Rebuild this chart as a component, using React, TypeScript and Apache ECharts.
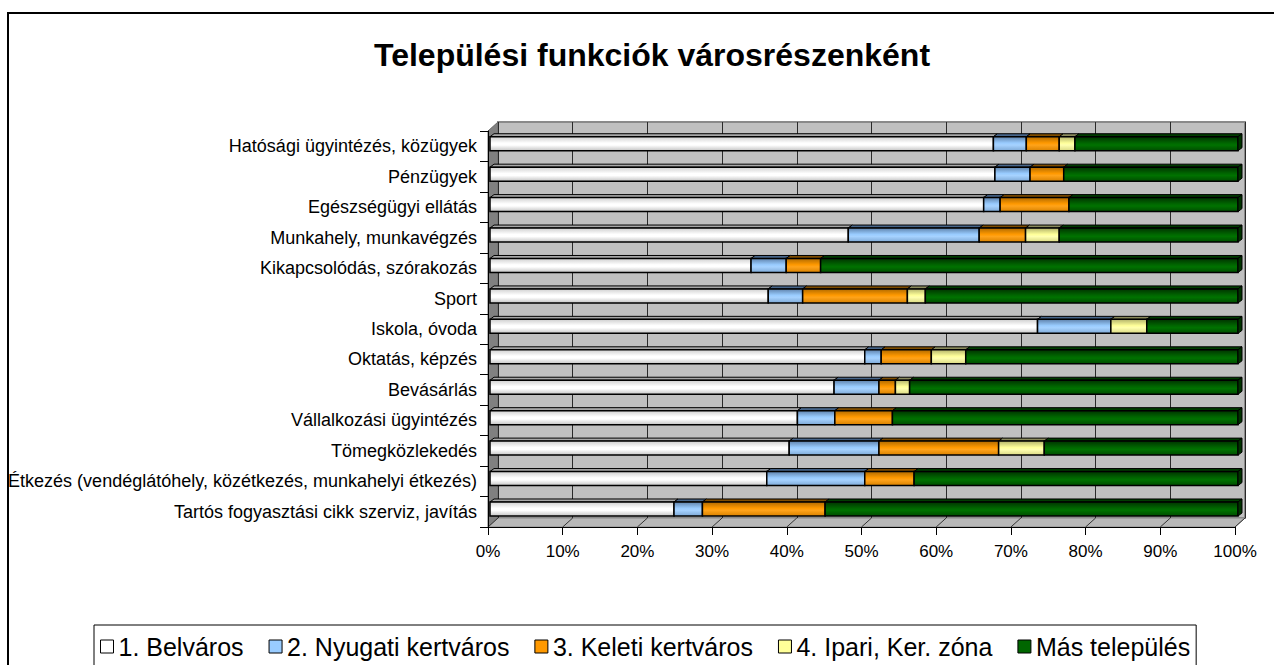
import React, { useEffect, useRef } from "react";
import * as echarts from "echarts";

const categories = [
  "Hatósági ügyintézés, közügyek",
  "Pénzügyek",
  "Egészségügyi ellátás",
  "Munkahely, munkavégzés",
  "Kikapcsolódás, szórakozás",
  "Sport",
  "Iskola, óvoda",
  "Oktatás, képzés",
  "Bevásárlás",
  "Vállalkozási ügyintézés",
  "Tömegközlekedés",
  "Étkezés (vendéglátóhely, közétkezés, munkahelyi étkezés)",
  "Tartós fogyasztási cikk szerviz, javítás",
];

const seriesNames = [
  "1. Belváros",
  "2. Nyugati kertváros",
  "3. Keleti kertváros",
  "4. Ipari, Ker. zóna",
  "Más település",
];

const belvaros = [67.3, 67.5, 66.0, 47.9, 34.9, 37.2, 73.2, 50.1, 46.0, 41.1, 40.0, 37.0, 24.6];
const nyugati = [4.4, 4.7, 2.2, 17.5, 4.7, 4.6, 9.8, 2.2, 6.0, 5.0, 12.0, 13.1, 3.8];
const keleti = [4.4, 4.5, 9.2, 6.2, 4.6, 14.0, 0, 6.7, 2.2, 7.7, 16.0, 6.6, 16.4];
const ipari = [2.1, 0, 0, 4.5, 0, 2.4, 4.8, 4.6, 1.9, 0, 6.1, 0, 0];
const mas = [21.8, 23.3, 22.6, 23.9, 55.8, 41.8, 12.2, 36.4, 43.9, 46.2, 25.9, 43.3, 55.2];

const xTicks = [0, 10, 20, 30, 40, 50, 60, 70, 80, 90, 100];

const FONT = '"Liberation Sans", Arial, sans-serif';

const palettes = [
  { base: "#ffffff", grad: ["#cfcfcf", "#ffffff", "#ffffff", "#c4c4c4"], top: "#a8a8a8", side: "#9a9a9a" },
  { base: "#99ccff", grad: ["#5f82ab", "#99ccff", "#a6d2ff", "#7ea9d6"], top: "#48668a", side: "#4a6a8c" },
  { base: "#ff9900", grad: ["#b06a00", "#ff9900", "#ffa31a", "#d98200"], top: "#7f4d00", side: "#8c5400" },
  { base: "#ffff99", grad: ["#b3b36b", "#ffff99", "#ffffb0", "#d9d982"], top: "#8a8a5c", side: "#8c8c5a" },
  { base: "#006600", grad: ["#003300", "#006600", "#007200", "#004d00"], top: "#003d00", side: "#003300" },
];

export default function App() {
  const ref = useRef<HTMLDivElement>(null);

  useEffect(() => {
    if (!ref.current) return;
    const chart = echarts.init(ref.current, null, { renderer: "svg" });

    const all = [belvaros, nyugati, keleti, ipari, mas];
    const cum = categories.map(() => 0);
    const seriesData = all.map((arr) =>
      arr.map((v, j) => {
        const s = cum[j];
        cum[j] += v;
        return [s, s + v, j];
      })
    );

    const H = 14;
    const DX = 4;
    const DY = 3;

    const series: any[] = seriesData.map((data, i) => {
      const pal = palettes[i];
      const isLast = i === seriesData.length - 1;
      return {
        type: "custom",
        name: seriesNames[i],
        xAxisIndex: 0,
        yAxisIndex: 0,
        z: 4,
        itemStyle: { color: pal.base, borderColor: "#000", borderWidth: 1 },
        encode: { x: [0, 1], y: 2 },
        data,
        renderItem: (params: any, api: any) => {
          const s = api.value(0);
          const e = api.value(1);
          const c = api.value(2);
          if (e - s <= 0) return { type: "group", children: [] };
          const a = api.coord([s, c]);
          const b = api.coord([e, c]);
          const y0 = a[1] - H / 2;
          const children: any[] = [
            {
              type: "polygon",
              shape: {
                points: [
                  [a[0], y0],
                  [a[0] + DX, y0 - DY],
                  [b[0] + DX, y0 - DY],
                  [b[0], y0],
                ],
              },
              style: { fill: pal.top, stroke: "#000", lineWidth: 1 },
            },
            {
              type: "rect",
              shape: { x: a[0], y: y0, width: b[0] - a[0], height: H },
              style: {
                fill: new echarts.graphic.LinearGradient(0, 0, 0, 1, [
                  { offset: 0, color: pal.grad[0] },
                  { offset: 0.45, color: pal.grad[1] },
                  { offset: 0.6, color: pal.grad[2] },
                  { offset: 1, color: pal.grad[3] },
                ]),
                stroke: "#000",
                lineWidth: 1.5,
              },
            },
          ];
          if (isLast) {
            children.push({
              type: "polygon",
              shape: {
                points: [
                  [b[0], y0],
                  [b[0] + DX, y0 - DY],
                  [b[0] + DX, y0 + H - DY],
                  [b[0], y0 + H],
                ],
              },
              style: { fill: pal.side, stroke: "#000", lineWidth: 1 },
            });
          }
          return { type: "group", children };
        },
      };
    });

    // Geometry of the pseudo-3D box
    const fL = 488, fR = 1235, fB = 527, fT = 131;
    const bL = 498, bR = 1245, bB = 518, bT = 122;

    const floorLines = xTicks.map((t) => {
      const fx = fL + ((fR - fL) * t) / 100;
      const bx = bL + ((bR - bL) * t) / 100;
      return {
        type: "line",
        z: 2,
        shape: { x1: fx, y1: fB, x2: bx, y2: bB },
        style: { stroke: "#333", lineWidth: 1 },
      };
    });

    chart.setOption({
      animation: false,
      backgroundColor: "#ffffff",
      title: {
        text: "Települési funkciók városrészenként",
        left: 647,
        top: 34,
        textAlign: "center",
        textStyle: { fontFamily: FONT, fontSize: 32, fontWeight: "bold", color: "#000" },
      },
      legend: {
        data: seriesNames,
        left: 94,
        top: 625,
        orient: "horizontal",
        icon: "rect",
        itemWidth: 13,
        itemHeight: 13,
        itemGap: 25,
        padding: [9, 6, 12, 6],
        borderColor: "#000",
        borderWidth: 1,
        backgroundColor: "#fff",
        itemStyle: { borderColor: "#000", borderWidth: 1 },
        textStyle: { fontFamily: FONT, fontSize: 25, color: "#000" },
      },
      grid: [
        { left: 490, top: 128.5, width: 748, height: 395.7, containLabel: false },
        { left: fL, top: fT, width: fR - fL, height: fB - fT, containLabel: false },
        {
          left: bL,
          top: bT,
          width: bR - bL,
          height: bB - bT,
          show: true,
          backgroundColor: "#c0c0c0",
          borderColor: "#8a8a8a",
          borderWidth: 2,
          z: 0,
        },
      ],
      xAxis: [
        { gridIndex: 0, type: "value", min: 0, max: 100, interval: 10, show: false },
        {
          gridIndex: 1,
          type: "value",
          min: 0,
          max: 100,
          interval: 10,
          z: 5,
          axisLine: { show: true, lineStyle: { color: "#000", width: 1 } },
          axisTick: { show: true, length: 8, lineStyle: { color: "#000" } },
          splitLine: { show: false },
          axisLabel: {
            formatter: "{value}%",
            fontFamily: FONT,
            fontSize: 17,
            color: "#000",
            margin: 16,
          },
        },
        {
          gridIndex: 2,
          type: "value",
          min: 0,
          max: 100,
          interval: 10,
          z: 1,
          axisLine: { show: false },
          axisTick: { show: false },
          axisLabel: { show: false },
          splitLine: { show: true, lineStyle: { color: "#2a2a2a", width: 1 } },
        },
      ],
      yAxis: [
        { gridIndex: 0, type: "category", data: categories, inverse: true, show: false },
        {
          gridIndex: 1,
          type: "category",
          data: categories,
          inverse: true,
          z: 5,
          axisLine: { show: true, lineStyle: { color: "#000", width: 1 } },
          axisTick: { show: true, length: 8, lineStyle: { color: "#000" } },
          axisLabel: { fontFamily: FONT, fontSize: 18, color: "#000", margin: 11 },
        },
        { gridIndex: 2, type: "value", show: false, min: 0, max: 1 },
      ],
      graphic: [
        {
          type: "rect",
          z: 0,
          shape: { x: 8, y: 13, width: 1300, height: 700 },
          style: { fill: "none", stroke: "#000", lineWidth: 2 },
        },
        {
          type: "polygon",
          z: 1,
          shape: { points: [[fL, fT], [bL, bT], [bL, bB], [fL, fB]] },
          style: { fill: "#808080", stroke: "#6a6a6a", lineWidth: 1 },
        },
        {
          type: "polygon",
          z: 1,
          shape: { points: [[fL, fB], [bL, bB], [bR, bB], [fR, fB]] },
          style: { fill: "#b8b8b8", stroke: "#8a8a8a", lineWidth: 1 },
        },
        ...floorLines,
      ],
      series,
    });

    return () => chart.dispose();
  }, []);

  return (
    <div
      ref={ref}
      style={{ position: "absolute", left: 0, top: 0, width: 1274, height: 665 }}
    />
  );
}
